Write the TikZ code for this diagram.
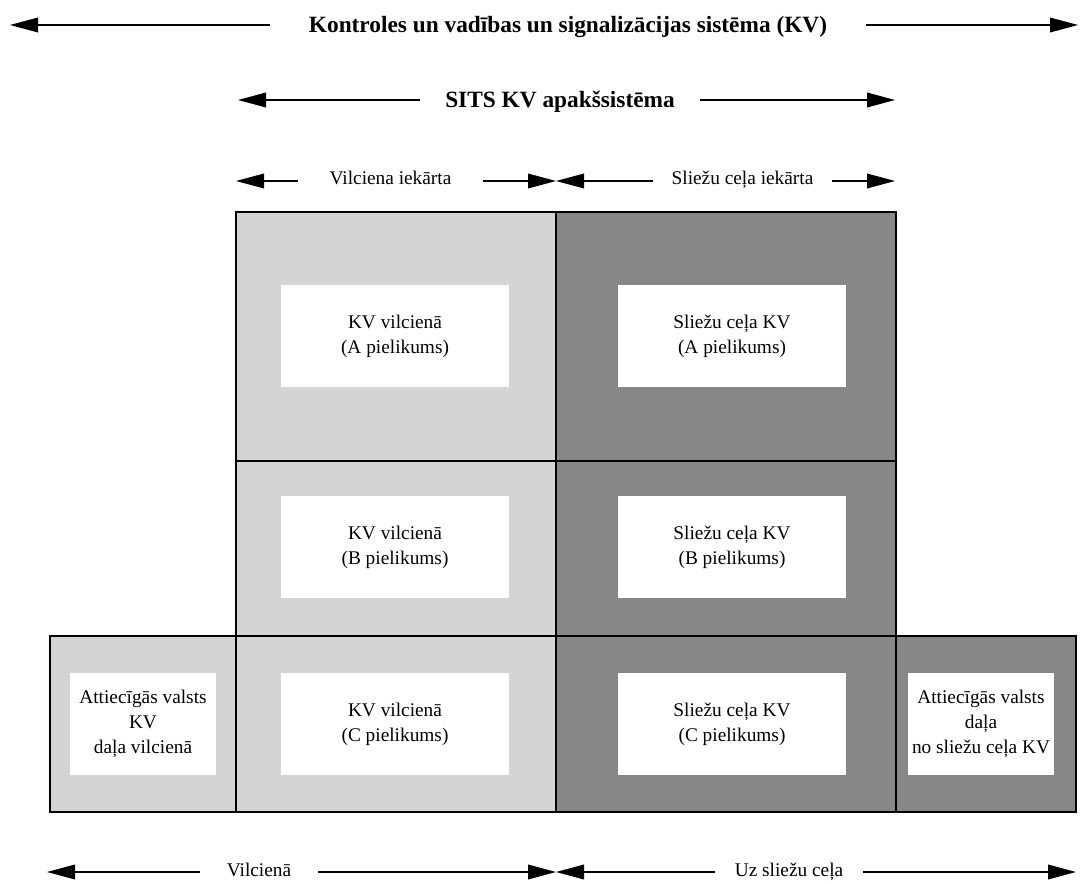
\documentclass[tikz,border=0pt]{standalone}
\usepackage{fontspec}
\setmainfont{Liberation Serif}
\usetikzlibrary{shapes,arrows.meta,positioning}

\begin{document}
\begin{tikzpicture}[x=0.75pt,y=-0.75pt,
  lightcell/.style={fill=black!17,draw=black,line width=1pt},
  darkcell/.style={fill=black!47,draw=black,line width=1pt},
  whitebox/.style={fill=white,minimum width=171pt,minimum height=76.5pt,inner sep=0pt,align=center,font=\fontsize{14.5}{18.75}\selectfont},
  smallbox/.style={whitebox,minimum width=110pt},
  span/.style={inner sep=0pt,align=center,text height=10pt,text depth=4pt,font=\fontsize{14.5}{18}\selectfont},
  bigspan/.style={inner sep=0pt,align=center,text height=13.5pt,text depth=1.5pt,font=\fontsize{17.5}{20}\selectfont\bfseries},
  arr/.style={-{Triangle[length=21pt,width=11pt]},line width=1pt}]
\useasboundingbox (0,0) rectangle (1088,884);

\node[bigspan,minimum width=447pt] (kv) at (568,25) {Kontroles un vadības un signalizācijas sistēma (KV)};
\coordinate (kvL) at (10,25); \coordinate (kvR) at (1078,25);
\draw[arr] (kv.west) -- (kvL); \draw[arr] (kv.east) -- (kvR);

\node[bigspan,minimum width=210pt] (sits) at (560,100) {SITS KV apakšsistēma};
\coordinate (sitsL) at (238,100); \coordinate (sitsR) at (895,100);
\draw[arr] (sits.west) -- (sitsL); \draw[arr] (sits.east) -- (sitsR);

\node[span,minimum width=138.75pt] (vilc) at (390.5,181) {Vilciena iekārta};
\node[span,minimum width=134.25pt] (slie) at (742.5,181) {Sliežu ceļa iekārta};
\coordinate (vilcL) at (236,181); \coordinate (mid) at (556,181); \coordinate (slieR) at (895,181);
\draw[arr] (vilc.west) -- (vilcL); \draw[arr] (vilc.east) -- (mid);
\draw[arr] (slie.west) -- (mid); \draw[arr] (slie.east) -- (slieR);

\draw[lightcell] (236,212) rectangle (556,461);
\draw[lightcell] (236,461) rectangle (556,636);
\draw[lightcell] (236,636) rectangle (556,812);
\draw[lightcell] (50,636) rectangle (236,812);
\draw[darkcell] (556,212) rectangle (896,461);
\draw[darkcell] (556,461) rectangle (896,636);
\draw[darkcell] (556,636) rectangle (896,812);
\draw[darkcell] (896,636) rectangle (1076,812);

\node[whitebox] (vA) at (395,336) {KV vilcienā\\(A pielikums)};
\node[whitebox] (vB) at (395,547) {KV vilcienā\\(B pielikums)};
\node[whitebox] (vC) at (395,724) {KV vilcienā\\(C pielikums)};
\node[whitebox] (sA) at (732,336) {Sliežu ceļa KV\\(A pielikums)};
\node[whitebox] (sB) at (732,547) {Sliežu ceļa KV\\(B pielikums)};
\node[whitebox] (sC) at (732,724) {Sliežu ceļa KV\\(C pielikums)};
\node[smallbox] (vN) at (143,724) {Attiecīgās valsts\\KV\\daļa vilcienā};
\node[smallbox] (sN) at (981,724) {Attiecīgās valsts\\daļa\\no sliežu ceļa KV};

\node[span,minimum width=88.5pt] (onb) at (259,872) {Vilcienā};
\node[span,minimum width=111pt] (trk) at (789,872) {Uz sliežu ceļa};
\coordinate (onbL) at (47,872); \coordinate (bmid) at (556,872); \coordinate (trkR) at (1076,872);
\draw[arr] (onb.west) -- (onbL); \draw[arr] (onb.east) -- (bmid);
\draw[arr] (trk.west) -- (bmid); \draw[arr] (trk.east) -- (trkR);
\end{tikzpicture}
\end{document}
